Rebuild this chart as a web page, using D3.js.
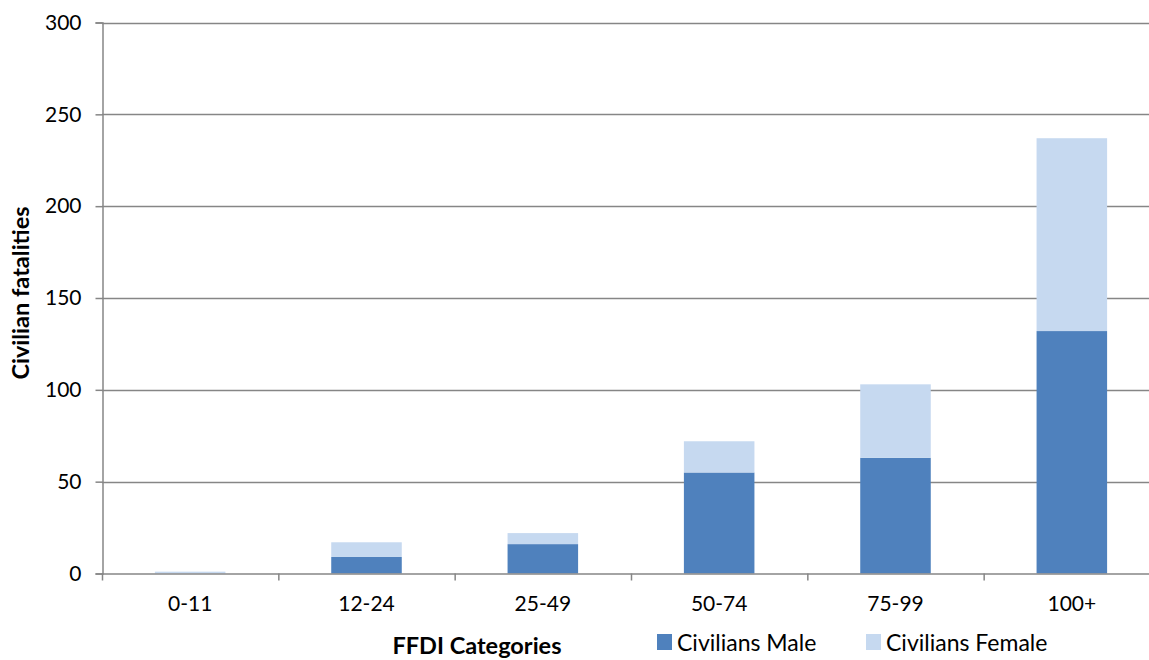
<!DOCTYPE html>
<html>
<head>
<meta charset="utf-8">
<script src="https://cdn.jsdelivr.net/npm/d3@7"></script>
<style>
  html, body { margin: 0; padding: 0; background: #ffffff; }
  svg { display: block; }
  text { font-family: Lato, "Open Sans", sans-serif; fill: #000; }
</style>
</head>
<body>
<svg id="chart" width="1149" height="660"></svg>
<script>
// FFDI category labels and civilian fatality counts
const categories = ["0-11", "12-24", "25-49", "50-74", "75-99", "100+"];
const maleValues = [0, 9, 16, 55, 63, 132];
const femaleValues = [1, 8, 6, 17, 40, 105];
const yTicks = [0, 50, 100, 150, 200, 250, 300];
const seriesNames = ["Civilians Male", "Civilians Female"];
const seriesColors = ["#4f81bd", "#c6d9f0"];

const svg = d3.select("#chart");
const margin = { left: 102, top: 22.5, bottom: 573.5 };
const plotRight = 1160;

const x = d3.scaleBand()
  .domain(categories)
  .range([margin.left, plotRight])
  .paddingInner(0.6)
  .paddingOuter(0.3);

const y = d3.scaleLinear()
  .domain([0, 300])
  .range([margin.bottom, margin.top]);

const gridColor = "#868686";

// horizontal gridlines
svg.append("g")
  .selectAll("line")
  .data(yTicks.filter(d => d > 0))
  .join("line")
  .attr("x1", margin.left)
  .attr("x2", plotRight)
  .attr("y1", d => Math.round(y(d)) + 0.5)
  .attr("y2", d => Math.round(y(d)) + 0.5)
  .attr("stroke", gridColor)
  .attr("stroke-width", 1.5);

// stacked bars
const table = categories.map((c, i) => ({ cat: c, male: maleValues[i], female: femaleValues[i] }));
const stack = d3.stack().keys(["male", "female"])(table);

svg.append("g")
  .selectAll("g")
  .data(stack)
  .join("g")
  .attr("fill", (d, i) => seriesColors[i])
  .selectAll("rect")
  .data(d => d)
  .join("rect")
  .attr("x", d => x(d.data.cat))
  .attr("width", x.bandwidth())
  .attr("y", d => y(d[1]))
  .attr("height", d => Math.max(0, y(d[0]) - y(d[1])));

// y axis
const yAxis = d3.axisLeft(y)
  .tickValues(yTicks)
  .tickSize(7)
  .tickPadding(14)
  .tickFormat(d3.format("d"));

const gy = svg.append("g")
  .attr("transform", `translate(${margin.left + 0.5},0)`)
  .call(yAxis);
gy.select(".domain").attr("stroke", gridColor).attr("stroke-width", 1.5);
gy.selectAll(".tick line").attr("stroke", gridColor).attr("stroke-width", 1.5);
gy.selectAll(".tick text")
  .style("font-family", "Lato, sans-serif")
  .style("font-size", "21px")
  .attr("fill", "#000");

// x axis with ticks on category boundaries
const xAxis = d3.axisBottom(x).tickSize(0).tickPadding(23);
const gx = svg.append("g")
  .attr("transform", `translate(0,${margin.bottom})`)
  .call(xAxis);
gx.select(".domain").attr("stroke", gridColor).attr("stroke-width", 1.5);
gx.selectAll(".tick text")
  .style("font-family", "Lato, sans-serif")
  .style("font-size", "21px")
  .attr("fill", "#000");

const step = x.step();
const boundaries = d3.range(categories.length + 1).map(i => margin.left + i * step);
svg.append("g")
  .selectAll("line")
  .data(boundaries)
  .join("line")
  .attr("x1", d => d + 0.5)
  .attr("x2", d => d + 0.5)
  .attr("y1", margin.bottom)
  .attr("y2", margin.bottom + 7)
  .attr("stroke", gridColor)
  .attr("stroke-width", 1.5);

// axis titles
svg.append("text")
  .attr("transform", `translate(29,293) rotate(-90)`)
  .attr("text-anchor", "middle")
  .style("font-size", "23.5px")
  .style("font-weight", "bold")
  .text("Civilian fatalities");

svg.append("text")
  .attr("x", 477)
  .attr("y", 654)
  .attr("text-anchor", "middle")
  .style("font-size", "23.5px")
  .style("font-weight", "bold")
  .text("FFDI Categories");

// legend
const legendX = [657, 866];
const legend = svg.append("g")
  .selectAll("g")
  .data(seriesNames)
  .join("g")
  .attr("transform", (d, i) => `translate(${legendX[i]},634)`);
legend.append("rect")
  .attr("width", 15)
  .attr("height", 16)
  .attr("fill", (d, i) => seriesColors[i]);
legend.append("text")
  .attr("x", 20)
  .attr("y", 16.5)
  .style("font-size", "23px")
  .text(d => d);
</script>
</body>
</html>
